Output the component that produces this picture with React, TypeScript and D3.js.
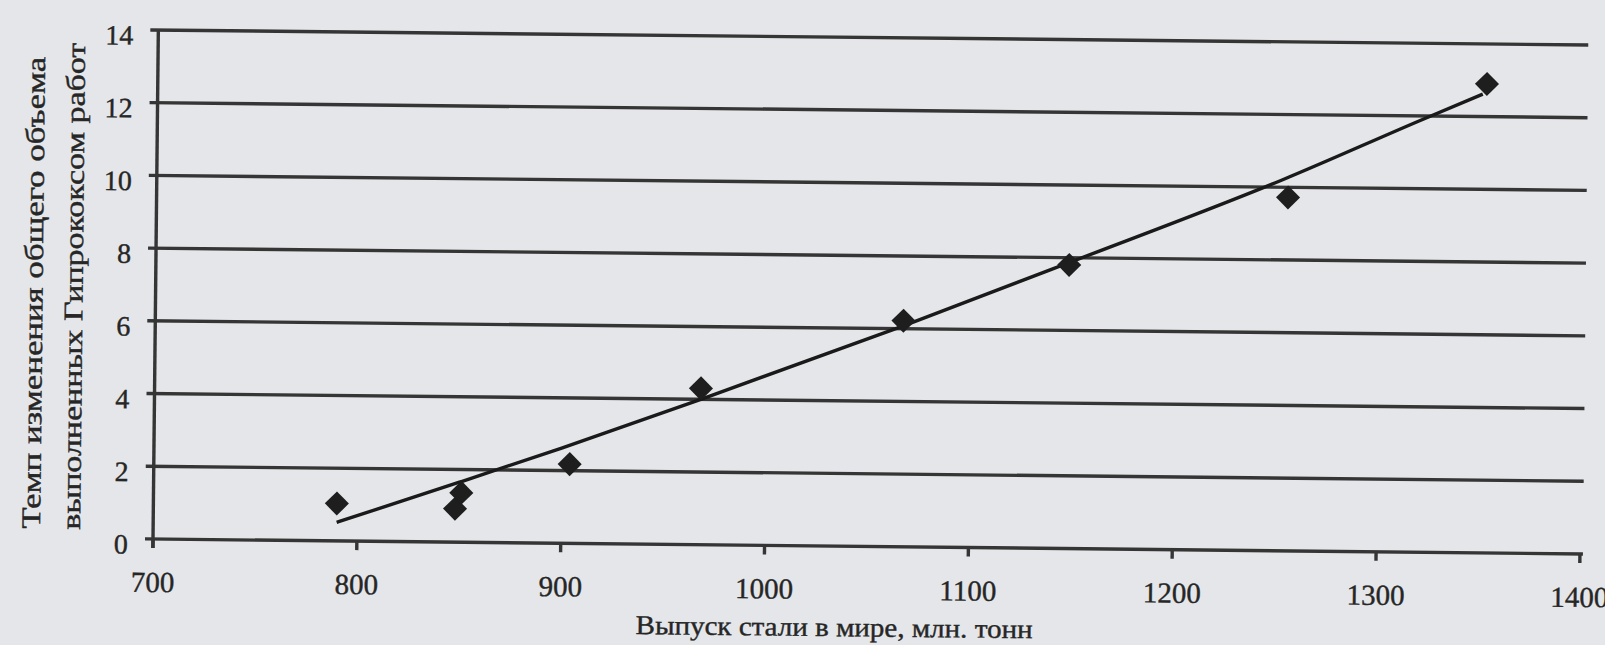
import React from "react";
import * as d3 from "d3";

// Tick values
const xTicks = [700, 800, 900, 1000, 1100, 1200, 1300, 1400];
const yTicks = [0, 2, 4, 6, 8, 10, 12, 14];

// Observed points: world steel output (mln t) vs. growth rate of Giprokoks work volume
const steelOutput = [790, 848, 851, 904, 968, 1067, 1148, 1255, 1352];
const workGrowth = [1.03, 0.92, 1.36, 2.18, 4.3, 6.22, 7.8, 9.72, 12.9];

// Trend line
const trendX = [790, 850, 900, 968, 1067, 1150, 1252, 1320, 1350];
const trendY = [0.51, 1.65, 2.62, 4.0, 6.08, 7.91, 10.2, 11.89, 12.62];

const xTitle = "Выпуск стали в мире, млн. тонн";
const yTitle1 = "Темп изменения общего объема";
const yTitle2 = "выполненных Гипрококсом работ";

const W = 1605;
const H = 645;
const LEFT = 153;
const RIGHT = 1580;
const TOP = 30;
const BOTTOM = 539;
const TILT = 0.6;

const FONT = "'Liberation Serif', 'Times New Roman', serif";
const INK = "#262626";
const LINE = "#353535";

export default function App() {
  const x = d3.scaleLinear().domain([700, 1400]).range([LEFT, RIGHT]);
  const y = d3.scaleLinear().domain([0, 14]).range([BOTTOM, TOP]);

  const trendData = trendX.map((v, i) => [v, trendY[i]] as [number, number]);
  const trendPath =
    d3
      .line<[number, number]>()
      .x((d) => x(d[0]))
      .y((d) => y(d[1]))
      .curve(d3.curveMonotoneX)(trendData) || "";

  const marker = d3.symbol().type(d3.symbolSquare).size(290)() || "";

  const textStyle = {
    fontFamily: FONT,
    fill: INK,
    stroke: INK,
    strokeWidth: 0.4,
  } as const;

  return (
    <svg
      width={W}
      height={H}
      viewBox={`0 0 ${W} ${H}`}
      style={{ position: "absolute", left: 0, top: 0, background: "#e4e6e9" }}
    >
      <rect x={0} y={0} width={W} height={H} fill="#e4e6e9" />
      <g transform={`rotate(${TILT}, ${LEFT}, ${BOTTOM})`}>
        {/* horizontal gridlines with left ticks */}
        {yTicks.map((t) => (
          <line
            key={`g${t}`}
            x1={LEFT - 8}
            x2={RIGHT + 3}
            y1={y(t)}
            y2={y(t)}
            stroke={LINE}
            strokeWidth={3.4}
          />
        ))}
        {/* y axis */}
        <line x1={LEFT} x2={LEFT} y1={y(14)} y2={BOTTOM + 9} stroke={LINE} strokeWidth={3.4} />
        {/* x ticks */}
        {xTicks.map((t) => (
          <line
            key={`xt${t}`}
            x1={x(t)}
            x2={x(t)}
            y1={BOTTOM}
            y2={BOTTOM + 9}
            stroke={LINE}
            strokeWidth={3.4}
          />
        ))}
        {/* y tick labels */}
        {yTicks.map((t) => (
          <text
            key={`yl${t}`}
            x={LEFT - 25}
            y={y(t) + 15}
            textAnchor="end"
            fontSize={28}
            style={textStyle}
          >
            {t}
          </text>
        ))}
        {/* x tick labels */}
        {xTicks.map((t) => (
          <text
            key={`xl${t}`}
            x={x(t)}
            y={592}
            textAnchor="middle"
            fontSize={29}
            style={textStyle}
          >
            {t}
          </text>
        ))}
        {/* axis titles */}
        <text
          x={835}
          y={629}
          textAnchor="middle"
          fontSize={27}
          style={textStyle}
          textLength={397}
          lengthAdjust="spacingAndGlyphs"
        >
          {xTitle}
        </text>
        <text
          transform={`translate(40, 294) rotate(-90)`}
          textAnchor="middle"
          fontSize={27}
          style={textStyle}
          textLength={472}
          lengthAdjust="spacingAndGlyphs"
        >
          {yTitle1}
        </text>
        <text
          transform={`translate(80, 287) rotate(-90)`}
          textAnchor="middle"
          fontSize={27}
          style={textStyle}
          textLength={487}
          lengthAdjust="spacingAndGlyphs"
        >
          {yTitle2}
        </text>
        {/* trend line */}
        <path d={trendPath} fill="none" stroke="#1a1a1a" strokeWidth={3.4} />
        {/* data markers */}
        {steelOutput.map((v, i) => (
          <path
            key={`p${i}`}
            d={marker}
            transform={`translate(${x(v)}, ${y(workGrowth[i])}) rotate(45)`}
            fill="#1e1e1e"
          />
        ))}
      </g>
    </svg>
  );
}
